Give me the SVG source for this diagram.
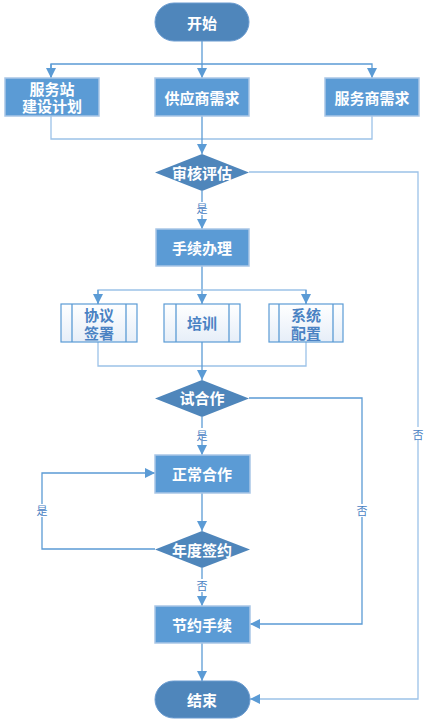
<svg xmlns="http://www.w3.org/2000/svg" width="430" height="727" viewBox="0 0 430 727">
<defs>
<style>
.term{fill:#4f86bb;stroke:#6a9bd0;stroke-width:1}
.proc{fill:#5b9bd5;stroke:#a9c6e6;stroke-width:1.5}
.dec{fill:#4f86bb;stroke:none}
.pre{fill:url(#pg);stroke:#5b9bd5;stroke-width:1.2}
.t{font-family:"Noto Sans CJK SC","Noto Sans",sans-serif;font-size:15px;font-weight:bold;fill:#ffffff;text-anchor:middle;dominant-baseline:central}
.tb{font-family:"Noto Sans CJK SC","Noto Sans",sans-serif;font-size:15px;font-weight:bold;fill:#4a82c3;text-anchor:middle;dominant-baseline:central}
.lbl{font-family:"Noto Sans CJK SC","Noto Sans",sans-serif;font-size:11px;fill:#4a82c3;text-anchor:middle;dominant-baseline:central}
.ln{fill:none;stroke:#5b9bd5;stroke-width:1.3}
.ln2{fill:none;stroke:#9cc2e8;stroke-width:1.3}
</style>
<linearGradient id="pg" x1="0" y1="0" x2="0" y2="1">
<stop offset="0" stop-color="#ffffff"/>
<stop offset="1" stop-color="#e6eef8"/>
</linearGradient>
<marker id="ar" viewBox="0 0 10 10" refX="10" refY="5" markerWidth="10" markerHeight="10" markerUnits="userSpaceOnUse" orient="auto">
<path d="M0,0 L10,5 L0,10 z" fill="#5b9bd5"/>
</marker>
</defs>

<g id="connectors">
<path class="ln" d="M202,41 V64"/>
<path class="ln" d="M51,78 V64 H372 V78" marker-end="url(#ar)"/>
<path class="ln" d="M51,64 V78" marker-end="url(#ar)"/>
<path class="ln" d="M202,64 V78" marker-end="url(#ar)"/>
<path class="ln2" d="M51,116 V139 H372 V116"/>
<path class="ln" d="M202,116 V154" marker-end="url(#ar)"/>
<path class="ln" d="M202,191 V229" marker-end="url(#ar)"/>
<path class="ln" d="M202,266 V304" marker-end="url(#ar)"/>
<path class="ln2" d="M98,304 V290 H306 V304"/>
<path class="ln" d="M98,290 V304" marker-end="url(#ar)"/>
<path class="ln" d="M306,290 V304" marker-end="url(#ar)"/>
<path class="ln2" d="M98,342 V366 H306 V342"/>
<path class="ln" d="M202,342 V380" marker-end="url(#ar)"/>
<path class="ln" d="M202,417 V455" marker-end="url(#ar)"/>
<path class="ln" d="M202,493 V531" marker-end="url(#ar)"/>
<path class="ln" d="M155,549 H42 V473 H155" marker-end="url(#ar)"/>
<path class="ln" d="M202,568 V606" marker-end="url(#ar)"/>
<path class="ln" d="M249,398 H362 V624 H250" marker-end="url(#ar)"/>
<path class="ln" d="M202,643 V681" marker-end="url(#ar)"/>
<path class="ln2" d="M249,172 H418 V699 H250" marker-end="url(#ar)"/>
<rect x="195" y="202" width="14" height="13" fill="#fff"/>
<text class="lbl" x="202" y="208">是</text>
<rect x="195" y="428" width="14" height="13" fill="#fff"/>
<text class="lbl" x="202" y="435">是</text>
<rect x="35" y="504" width="14" height="13" fill="#fff"/>
<text class="lbl" x="42" y="510">是</text>
<rect x="195" y="579" width="14" height="13" fill="#fff"/>
<text class="lbl" x="202" y="585">否</text>
<rect x="355" y="504" width="14" height="13" fill="#fff"/>
<text class="lbl" x="362" y="510">否</text>
<rect x="411" y="427" width="14" height="13" fill="#fff"/>
<text class="lbl" x="418" y="434">否</text>
</g>

<g id="start">
<rect class="term" x="155" y="3" width="94" height="38" rx="19"/>
<text class="t" x="202" y="22">开始</text>
</g>
<g id="plan">
<rect class="proc" x="5" y="78" width="94" height="38"/>
<text class="t"><tspan x="52" y="88">服务站</tspan><tspan x="52" y="105">建设计划</tspan></text>
</g>
<g id="supplier">
<rect class="proc" x="155" y="78" width="94" height="38"/>
<text class="t" x="202" y="97">供应商需求</text>
</g>
<g id="servicer">
<rect class="proc" x="325" y="78" width="94" height="38"/>
<text class="t" x="372" y="97">服务商需求</text>
</g>
<g id="review">
<polygon class="dec" points="202,154 249,172.5 202,191 155,172.5"/>
<text class="t" x="202" y="172">审核评估</text>
</g>
<g id="procedure">
<rect class="proc" x="156" y="229" width="93" height="37"/>
<text class="t" x="202" y="247">手续办理</text>
</g>
<g id="agreement">
<rect class="pre" x="61" y="304" width="76" height="38"/>
<path class="ln" d="M72,304 V342 M126,304 V342"/>
<text class="tb"><tspan x="99" y="314">协议</tspan><tspan x="99" y="332">签署</tspan></text>
</g>
<g id="training">
<rect class="pre" x="164" y="304" width="76" height="38"/>
<path class="ln" d="M176,304 V342 M229,304 V342"/>
<text class="tb" x="202" y="322">培训</text>
</g>
<g id="config">
<rect class="pre" x="269" y="304" width="74" height="38"/>
<path class="ln" d="M279,304 V342 M333,304 V342"/>
<text class="tb"><tspan x="306" y="314">系统</tspan><tspan x="306" y="332">配置</tspan></text>
</g>
<g id="trial">
<polygon class="dec" points="202,380 249,398.5 202,417 155,398.5"/>
<text class="t" x="202" y="397">试合作</text>
</g>
<g id="normal">
<rect class="proc" x="155" y="455" width="95" height="38"/>
<text class="t" x="202" y="473">正常合作</text>
</g>
<g id="annual">
<polygon class="dec" points="202,531 250,549.5 202,568 155,549.5"/>
<text class="t" x="202" y="549">年度签约</text>
</g>
<g id="terminate">
<rect class="proc" x="155" y="606" width="95" height="37"/>
<text class="t" x="202" y="624">节约手续</text>
</g>
<g id="end">
<rect class="term" x="155" y="681" width="95" height="37" rx="18.5"/>
<text class="t" x="202" y="699">结束</text>
</g>
</svg>
